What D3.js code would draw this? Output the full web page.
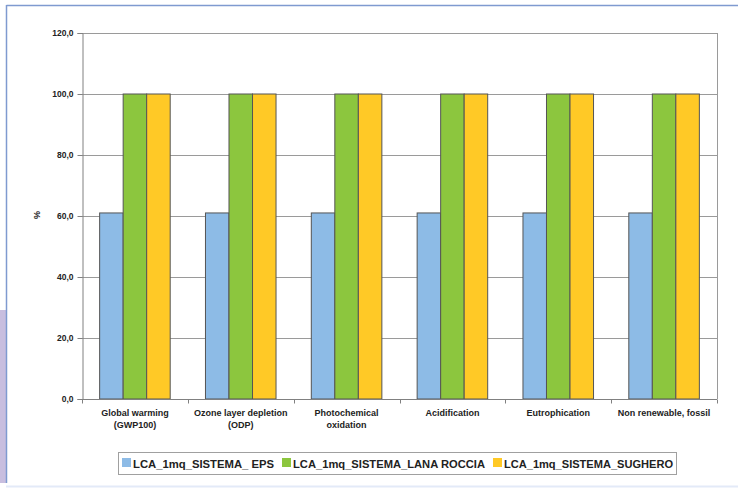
<!DOCTYPE html>
<html>
<head>
<meta charset="utf-8">
<script src="https://cdn.jsdelivr.net/npm/d3@7"></script>
<style>
  html, body { margin: 0; padding: 0; background: #fff; }
  svg { display: block; }
  text { font-family: "Liberation Sans Narrow", "Arial Narrow", "Liberation Sans", Arial, sans-serif; font-weight: bold; fill: #222; }
</style>
</head>
<body>
<script>
// Impact categories (two-line labels) and the three insulation systems compared
const categories = [
  ["Global warming", "(GWP100)"],
  ["Ozone layer depletion", "(ODP)"],
  ["Photochemical", "oxidation"],
  ["Acidification"],
  ["Eutrophication"],
  ["Non renewable, fossil"]
];
const seriesNames = ["LCA_1mq_SISTEMA_ EPS", "LCA_1mq_SISTEMA_LANA ROCCIA", "LCA_1mq_SISTEMA_SUGHERO"];
const eps = [61, 61, 61, 61, 61, 61];
const lanaRoccia = [100, 100, 100, 100, 100, 100];
const sughero = [100, 100, 100, 100, 100, 100];
const yTicks = [0, 20, 40, 60, 80, 100, 120];
const colors = ["#8dbbe6", "#8cc63e", "#ffc926"];

const W = 738, H = 489;
const svg = d3.select("body").append("svg").attr("width", W).attr("height", H);

// page frame
svg.append("rect").attr("x", 0).attr("y", 310).attr("width", 6).attr("height", 173).attr("fill", "#c8bedf");
svg.append("line").attr("x1", 6.5).attr("x2", W).attr("y1", 5.5).attr("y2", 5.5).attr("stroke", "#7f9ad0").attr("stroke-width", 1.5);
svg.append("line").attr("x1", 6.5).attr("x2", 6.5).attr("y1", 5).attr("y2", 483).attr("stroke", "#7f9ad0").attr("stroke-width", 1.5);
svg.append("line").attr("x1", 6).attr("x2", W).attr("y1", 486.5).attr("y2", 486.5).attr("stroke", "#e3eaf8").attr("stroke-width", 2);

const plot = { left: 82, top: 33, right: 717, bottom: 399 };

const x = d3.scaleBand().domain(d3.range(categories.length)).range([plot.left, plot.right]).paddingInner(0).paddingOuter(0);
const inner = d3.scaleBand().domain(d3.range(3)).range([0, x.bandwidth()]).paddingOuter(0.75).paddingInner(0);
const y = d3.scaleLinear().domain([0, 120]).range([plot.bottom, plot.top]);

const fmt = v => d3.format(".1f")(v).replace(".", ",");

// gridlines
svg.append("g").selectAll("line").data(yTicks).join("line")
  .attr("x1", plot.left).attr("x2", plot.right)
  .attr("y1", d => Math.round(y(d)) + 0.5).attr("y2", d => Math.round(y(d)) + 0.5)
  .attr("stroke", "#9a9a9a").attr("stroke-width", 1);

// right border of plot area
svg.append("line").attr("x1", plot.right + 0.5).attr("x2", plot.right + 0.5)
  .attr("y1", plot.top).attr("y2", plot.bottom).attr("stroke", "#9a9a9a");

// y axis
const yAxis = d3.axisLeft(y).tickValues(yTicks).tickFormat(fmt).tickSize(5).tickPadding(4);
const gy = svg.append("g").attr("transform", `translate(${plot.left + 0.5},0)`).call(yAxis);
gy.select(".domain").attr("stroke", "#808080");
gy.selectAll(".tick line").attr("stroke", "#808080");
gy.selectAll(".tick text").attr("font-size", 8.5).attr("fill", "#333")
  .style("font-family", '"Liberation Sans Narrow", "Arial Narrow", sans-serif').style("font-weight", "bold");

// axis title
svg.append("text").attr("transform", "translate(40,215) rotate(-90)")
  .attr("text-anchor", "middle").attr("font-size", 9).text("%");

// bars
const series = [eps, lanaRoccia, sughero];
const groups = svg.append("g").selectAll("g").data(categories).join("g")
  .attr("transform", (d, i) => `translate(${x(i)},0)`);
groups.selectAll("rect").data((d, i) => series.map((s, k) => ({ k, v: s[i] }))).join("rect")
  .attr("x", d => inner(d.k))
  .attr("y", d => y(d.v))
  .attr("width", inner.bandwidth())
  .attr("height", d => y(0) - y(d.v))
  .attr("fill", d => colors[d.k])
  .attr("stroke", "#555").attr("stroke-width", 1);

// x axis with ticks at category boundaries
const xAxisY = Math.round(y(0)) + 0.5;
svg.append("line").attr("x1", plot.left).attr("x2", plot.right).attr("y1", xAxisY).attr("y2", xAxisY).attr("stroke", "#808080");
svg.append("g").selectAll("line").data(d3.range(categories.length + 1)).join("line")
  .attr("x1", i => Math.round(plot.left + i * x.bandwidth()) + 0.5)
  .attr("x2", i => Math.round(plot.left + i * x.bandwidth()) + 0.5)
  .attr("y1", xAxisY).attr("y2", xAxisY + 4).attr("stroke", "#808080");

// category labels
const lab = svg.append("g").selectAll("text").data(categories).join("text")
  .attr("x", (d, i) => x(i) + x.bandwidth() / 2)
  .attr("y", 416).attr("text-anchor", "middle").attr("font-size", 9);
lab.selectAll("tspan").data(d => d).join("tspan")
  .attr("x", function () { return d3.select(this.parentNode).attr("x"); })
  .attr("dy", (d, j) => j === 0 ? 0 : 12)
  .text(d => d);

// legend
const legend = svg.append("g");
legend.append("rect").attr("x", 118.5).attr("y", 452.5).attr("width", 558).attr("height", 22)
  .attr("fill", "#fff").attr("stroke", "#a0a0a0");
const legX = [122, 282, 493];
const legW = [141, 192, 169];
seriesNames.forEach((name, k) => {
  legend.append("rect").attr("x", legX[k]).attr("y", 458).attr("width", 9).attr("height", 9).attr("fill", colors[k]);
  legend.append("text").attr("x", legX[k] + 11).attr("y", 467.5).attr("font-size", 10.5)
    .attr("textLength", legW[k]).attr("lengthAdjust", "spacingAndGlyphs").text(name);
});
</script>
</body>
</html>
